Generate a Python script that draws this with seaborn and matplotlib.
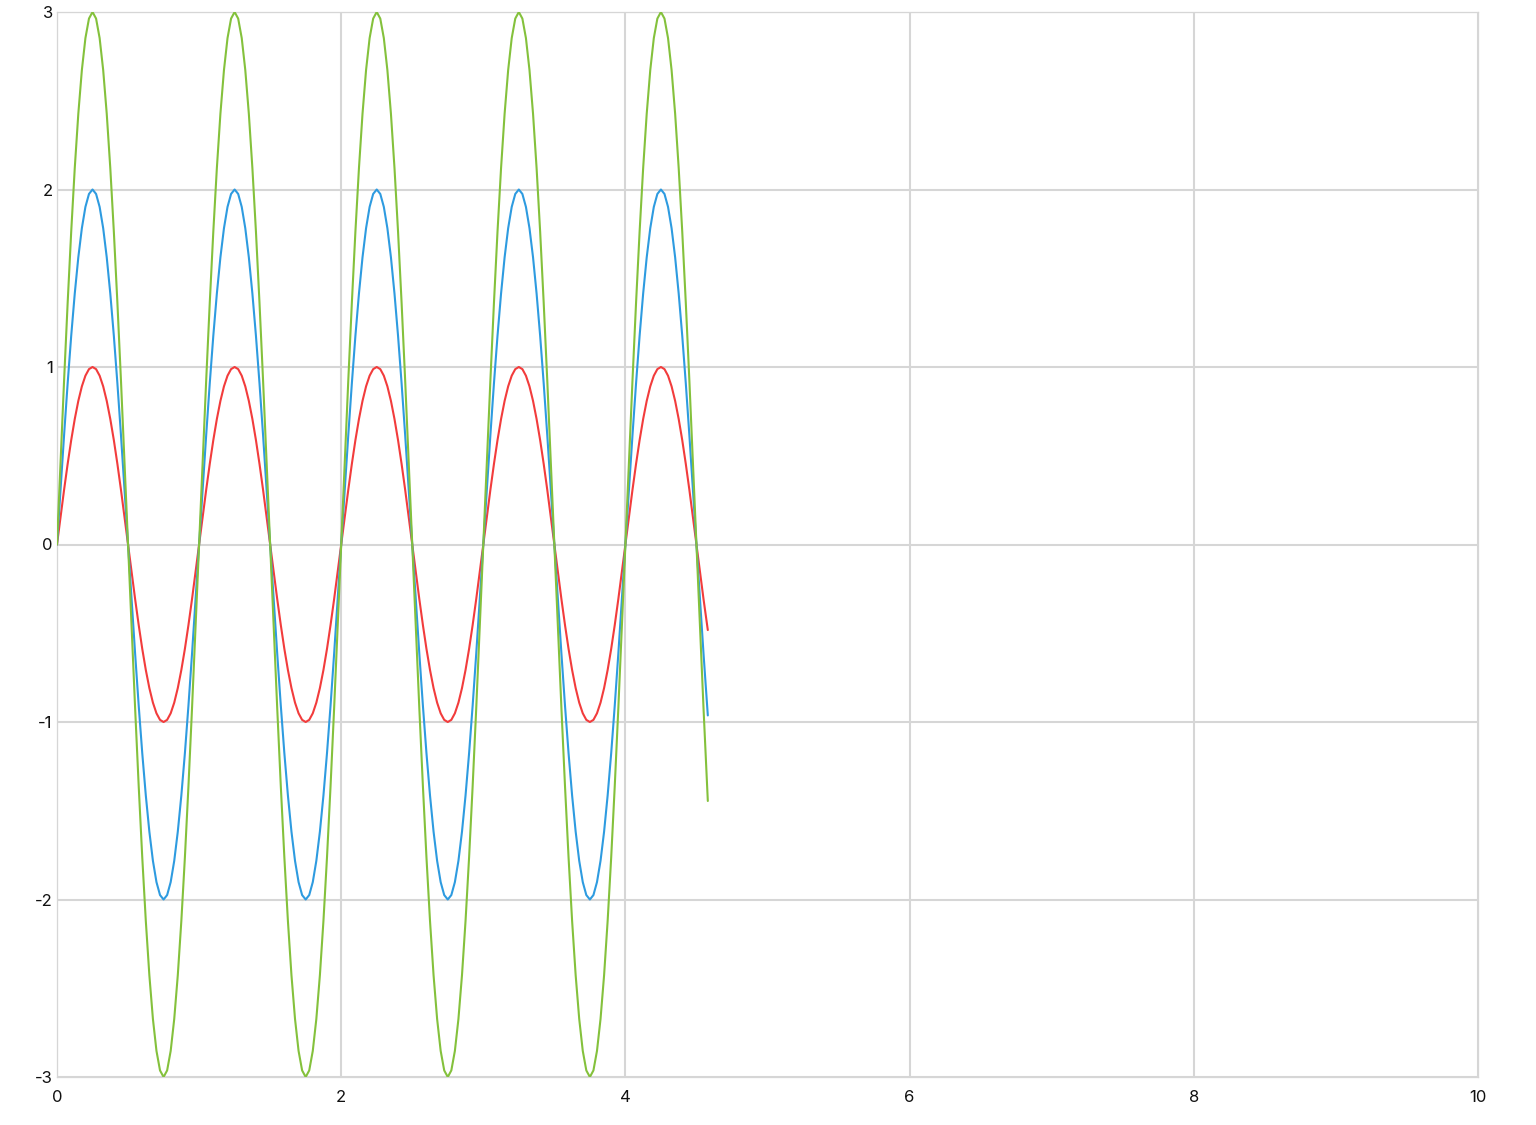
import matplotlib
matplotlib.use("Agg")
import matplotlib.pyplot as plt
import seaborn as sns
import pandas as pd

# ---- data ----
x_values = [
    0, 0.025, 0.05, 0.075, 0.1, 0.125, 0.15, 0.175, 0.2, 0.225, 0.25, 0.275, 0.3, 0.325, 0.35, 0.375, 0.4, 0.425, 0.45, 0.475,
    0.5, 0.525, 0.55, 0.575, 0.6, 0.625, 0.65, 0.675, 0.7, 0.725, 0.75, 0.775, 0.8, 0.825, 0.85, 0.875, 0.9, 0.925, 0.95, 0.975,
    1, 1.025, 1.05, 1.075, 1.1, 1.125, 1.15, 1.175, 1.2, 1.225, 1.25, 1.275, 1.3, 1.325, 1.35, 1.375, 1.4, 1.425, 1.45, 1.475,
    1.5, 1.525, 1.55, 1.575, 1.6, 1.625, 1.65, 1.675, 1.7, 1.725, 1.75, 1.775, 1.8, 1.825, 1.85, 1.875, 1.9, 1.925, 1.95, 1.975,
    2, 2.025, 2.05, 2.075, 2.1, 2.125, 2.15, 2.175, 2.2, 2.225, 2.25, 2.275, 2.3, 2.325, 2.35, 2.375, 2.4, 2.425, 2.45, 2.475,
    2.5, 2.525, 2.55, 2.575, 2.6, 2.625, 2.65, 2.675, 2.7, 2.725, 2.75, 2.775, 2.8, 2.825, 2.85, 2.875, 2.9, 2.925, 2.95, 2.975,
    3, 3.025, 3.05, 3.075, 3.1, 3.125, 3.15, 3.175, 3.2, 3.225, 3.25, 3.275, 3.3, 3.325, 3.35, 3.375, 3.4, 3.425, 3.45, 3.475,
    3.5, 3.525, 3.55, 3.575, 3.6, 3.625, 3.65, 3.675, 3.7, 3.725, 3.75, 3.775, 3.8, 3.825, 3.85, 3.875, 3.9, 3.925, 3.95, 3.975,
    4, 4.025, 4.05, 4.075, 4.1, 4.125, 4.15, 4.175, 4.2, 4.225, 4.25, 4.275, 4.3, 4.325, 4.35, 4.375, 4.4, 4.425, 4.45, 4.475,
    4.5, 4.525, 4.55, 4.575, 4.58,
]

red_values = [
    0, 0.156, 0.309, 0.454, 0.588, 0.707, 0.809, 0.891, 0.951, 0.988, 1, 0.988, 0.951, 0.891, 0.809, 0.707, 0.588, 0.454, 0.309, 0.156,
    0, -0.156, -0.309, -0.454, -0.588, -0.707, -0.809, -0.891, -0.951, -0.988, -1, -0.988, -0.951, -0.891, -0.809, -0.707, -0.588, -0.454, -0.309, -0.156,
    0, 0.156, 0.309, 0.454, 0.588, 0.707, 0.809, 0.891, 0.951, 0.988, 1, 0.988, 0.951, 0.891, 0.809, 0.707, 0.588, 0.454, 0.309, 0.156,
    0, -0.156, -0.309, -0.454, -0.588, -0.707, -0.809, -0.891, -0.951, -0.988, -1, -0.988, -0.951, -0.891, -0.809, -0.707, -0.588, -0.454, -0.309, -0.156,
    0, 0.156, 0.309, 0.454, 0.588, 0.707, 0.809, 0.891, 0.951, 0.988, 1, 0.988, 0.951, 0.891, 0.809, 0.707, 0.588, 0.454, 0.309, 0.156,
    0, -0.156, -0.309, -0.454, -0.588, -0.707, -0.809, -0.891, -0.951, -0.988, -1, -0.988, -0.951, -0.891, -0.809, -0.707, -0.588, -0.454, -0.309, -0.156,
    0, 0.156, 0.309, 0.454, 0.588, 0.707, 0.809, 0.891, 0.951, 0.988, 1, 0.988, 0.951, 0.891, 0.809, 0.707, 0.588, 0.454, 0.309, 0.156,
    0, -0.156, -0.309, -0.454, -0.588, -0.707, -0.809, -0.891, -0.951, -0.988, -1, -0.988, -0.951, -0.891, -0.809, -0.707, -0.588, -0.454, -0.309, -0.156,
    0, 0.156, 0.309, 0.454, 0.588, 0.707, 0.809, 0.891, 0.951, 0.988, 1, 0.988, 0.951, 0.891, 0.809, 0.707, 0.588, 0.454, 0.309, 0.156,
    0, -0.156, -0.309, -0.454, -0.482,
]

blue_values = [
    0, 0.313, 0.618, 0.908, 1.176, 1.414, 1.618, 1.782, 1.902, 1.975, 2, 1.975, 1.902, 1.782, 1.618, 1.414, 1.176, 0.908, 0.618, 0.313,
    0, -0.313, -0.618, -0.908, -1.176, -1.414, -1.618, -1.782, -1.902, -1.975, -2, -1.975, -1.902, -1.782, -1.618, -1.414, -1.176, -0.908, -0.618, -0.313,
    0, 0.313, 0.618, 0.908, 1.176, 1.414, 1.618, 1.782, 1.902, 1.975, 2, 1.975, 1.902, 1.782, 1.618, 1.414, 1.176, 0.908, 0.618, 0.313,
    0, -0.313, -0.618, -0.908, -1.176, -1.414, -1.618, -1.782, -1.902, -1.975, -2, -1.975, -1.902, -1.782, -1.618, -1.414, -1.176, -0.908, -0.618, -0.313,
    0, 0.313, 0.618, 0.908, 1.176, 1.414, 1.618, 1.782, 1.902, 1.975, 2, 1.975, 1.902, 1.782, 1.618, 1.414, 1.176, 0.908, 0.618, 0.313,
    0, -0.313, -0.618, -0.908, -1.176, -1.414, -1.618, -1.782, -1.902, -1.975, -2, -1.975, -1.902, -1.782, -1.618, -1.414, -1.176, -0.908, -0.618, -0.313,
    0, 0.313, 0.618, 0.908, 1.176, 1.414, 1.618, 1.782, 1.902, 1.975, 2, 1.975, 1.902, 1.782, 1.618, 1.414, 1.176, 0.908, 0.618, 0.313,
    0, -0.313, -0.618, -0.908, -1.176, -1.414, -1.618, -1.782, -1.902, -1.975, -2, -1.975, -1.902, -1.782, -1.618, -1.414, -1.176, -0.908, -0.618, -0.313,
    0, 0.313, 0.618, 0.908, 1.176, 1.414, 1.618, 1.782, 1.902, 1.975, 2, 1.975, 1.902, 1.782, 1.618, 1.414, 1.176, 0.908, 0.618, 0.313,
    0, -0.313, -0.618, -0.908, -0.963,
]

green_values = [
    0, 0.469, 0.927, 1.362, 1.763, 2.121, 2.427, 2.673, 2.853, 2.963, 3, 2.963, 2.853, 2.673, 2.427, 2.121, 1.763, 1.362, 0.927, 0.469,
    0, -0.469, -0.927, -1.362, -1.763, -2.121, -2.427, -2.673, -2.853, -2.963, -3, -2.963, -2.853, -2.673, -2.427, -2.121, -1.763, -1.362, -0.927, -0.469,
    0, 0.469, 0.927, 1.362, 1.763, 2.121, 2.427, 2.673, 2.853, 2.963, 3, 2.963, 2.853, 2.673, 2.427, 2.121, 1.763, 1.362, 0.927, 0.469,
    0, -0.469, -0.927, -1.362, -1.763, -2.121, -2.427, -2.673, -2.853, -2.963, -3, -2.963, -2.853, -2.673, -2.427, -2.121, -1.763, -1.362, -0.927, -0.469,
    0, 0.469, 0.927, 1.362, 1.763, 2.121, 2.427, 2.673, 2.853, 2.963, 3, 2.963, 2.853, 2.673, 2.427, 2.121, 1.763, 1.362, 0.927, 0.469,
    0, -0.469, -0.927, -1.362, -1.763, -2.121, -2.427, -2.673, -2.853, -2.963, -3, -2.963, -2.853, -2.673, -2.427, -2.121, -1.763, -1.362, -0.927, -0.469,
    0, 0.469, 0.927, 1.362, 1.763, 2.121, 2.427, 2.673, 2.853, 2.963, 3, 2.963, 2.853, 2.673, 2.427, 2.121, 1.763, 1.362, 0.927, 0.469,
    0, -0.469, -0.927, -1.362, -1.763, -2.121, -2.427, -2.673, -2.853, -2.963, -3, -2.963, -2.853, -2.673, -2.427, -2.121, -1.763, -1.362, -0.927, -0.469,
    0, 0.469, 0.927, 1.362, 1.763, 2.121, 2.427, 2.673, 2.853, 2.963, 3, 2.963, 2.853, 2.673, 2.427, 2.121, 1.763, 1.362, 0.927, 0.469,
    0, -0.469, -0.927, -1.362, -1.445,
]

series_names = ["red", "blue", "green"]
series_colors = {"red": "#f23c3c", "blue": "#2e9be0", "green": "#84c13c"}
x_ticks = [0, 2, 4, 6, 8, 10]
y_ticks = [-3, -2, -1, 0, 1, 2, 3]

df = pd.concat([
    pd.DataFrame({"x": x_values, "y": red_values, "series": "red"}),
    pd.DataFrame({"x": x_values, "y": blue_values, "series": "blue"}),
    pd.DataFrame({"x": x_values, "y": green_values, "series": "green"}),
], ignore_index=True)

# ---- style ----
sns.set_theme(style="white")
plt.rcParams["font.family"] = ["Inter", "DejaVu Sans"]
plt.rcParams["axes.unicode_minus"] = False
plt.rcParams["lines.solid_joinstyle"] = "round"

DPI = 150
fig = plt.figure(figsize=(1536 / DPI, 1125 / DPI), dpi=DPI, facecolor="white")
ax = fig.add_axes([57 / 1536, 1 - 1077 / 1125, (1478 - 57) / 1536, (1077 - 12) / 1125])

sns.lineplot(data=df, x="x", y="y", hue="series", hue_order=series_names,
             palette=series_colors, linewidth=1.0, legend=False, sort=False,
             estimator=None, ax=ax, zorder=3)

ax.set_xlim(0, 10)
ax.set_ylim(-3, 3)
ax.set_xticks(x_ticks)
ax.set_yticks(y_ticks)
ax.set_xticklabels([str(t) for t in x_ticks])
ax.set_yticklabels([str(t) for t in y_ticks])
ax.set_xlabel("")
ax.set_ylabel("")

ax.grid(True, color="#d6d6d6", linewidth=1.0, zorder=0)
ax.set_axisbelow(True)
for s in ax.spines.values():
    s.set_visible(True)
    s.set_color("#d6d6d6")
    s.set_linewidth(0.6)

ax.tick_params(axis="both", length=0, labelsize=8, colors="#111111")
ax.tick_params(axis="y", pad=2)
ax.tick_params(axis="x", pad=6)

fig.savefig("out.png", dpi=DPI, facecolor="white")
